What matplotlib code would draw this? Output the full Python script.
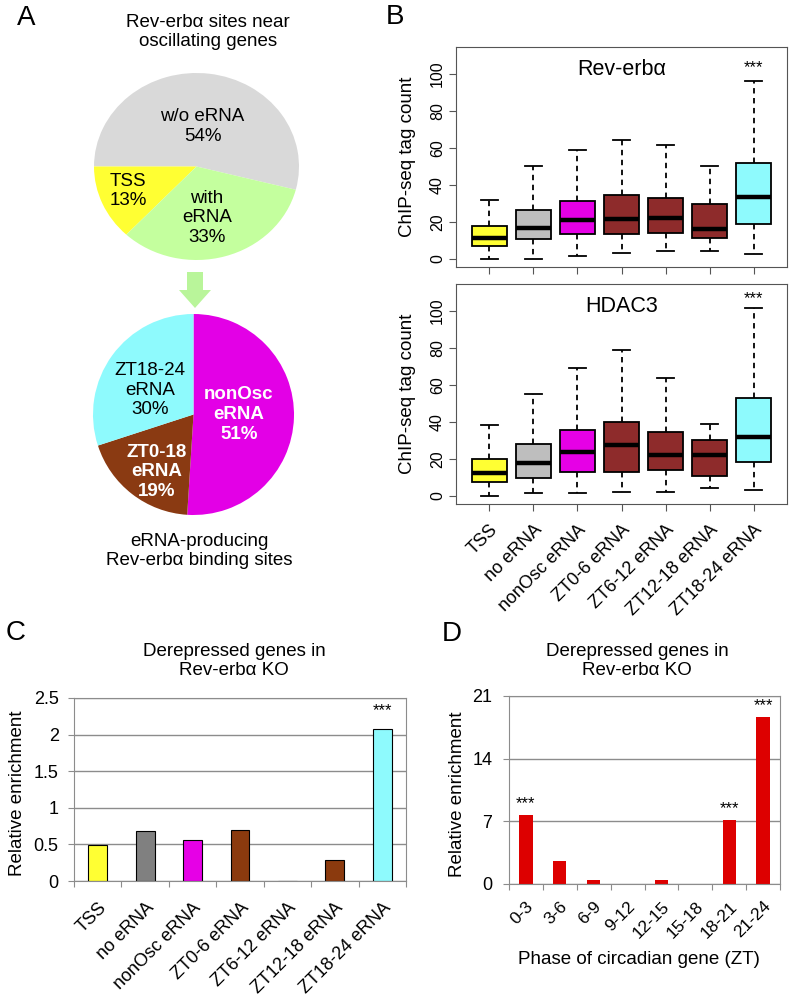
import numpy as np
import matplotlib
matplotlib.use('Agg')
import matplotlib.pyplot as plt
from matplotlib.patches import FancyArrow
from matplotlib.ticker import FormatStrFormatter

plt.rcParams['font.family'] = ['Liberation Sans', 'DejaVu Sans']

# Panel A: pie charts
pie1_labels = ['w/o eRNA', 'TSS', 'with\neRNA']
pie1_pct = [54, 13, 33]
pie1_colors = ['#D9D9D9', '#FFFF33', '#C4FF9E']

pie2_labels = ['nonOsc\neRNA', 'ZT0-18\neRNA', 'ZT18-24\neRNA']
pie2_pct = [51, 19, 30]
pie2_colors = ['#E300E6', '#8A3A12', '#8EFAFD']

# Panel B: ChIP-seq tag count box plots
box_cats = ['TSS', 'no eRNA', 'nonOsc eRNA', 'ZT0-6 eRNA', 'ZT6-12 eRNA',
            'ZT12-18 eRNA', 'ZT18-24 eRNA']
box_colors = ['#FFFF33', '#BEBEBE', '#E600E6', '#8E2B2B', '#8E2B2B', '#8E2B2B', '#8EFAFD']

rev_lo = [0, 0, 1.8, 3.1, 4.5, 4.5, 2.7]
rev_q1 = [7.0, 10.6, 13.5, 13.2, 14.1, 11.2, 18.6]
rev_med = [11.2, 16.8, 21.1, 21.4, 22.2, 15.9, 33.2]
rev_q3 = [17.5, 26.3, 31.4, 34.4, 33.0, 29.5, 51.7]
rev_hi = [32, 50, 58.6, 64.1, 61.6, 50, 95.9]

hdac_lo = [0, 1.3, 1.3, 2.3, 2.3, 4.5, 3.4]
hdac_q1 = [7.7, 9.9, 13.1, 13.1, 14.0, 10.8, 18.5]
hdac_med = [12.5, 17.6, 23.8, 27.2, 21.9, 21.9, 31.9]
hdac_q3 = [19.9, 28.1, 35.5, 40.0, 34.6, 30.3, 53.0]
hdac_hi = [38, 55, 68.8, 78.7, 63.8, 38.9, 101.3]

# Panel C: relative enrichment by eRNA class
enrich_vals = [0.49, 0.68, 0.565, 0.69, 0, 0.29, 2.07]
enrich_colors = ['#FFFF33', '#808080', '#E600E6', '#8B3A0E', '#8B3A0E', '#8B3A0E', '#8EFAFD']

# Panel D: relative enrichment by phase
phase_labels = ['0-3', '3-6', '6-9', '9-12', '12-15', '15-18', '18-21', '21-24']
phase_vals = [7.7, 2.6, 0.5, 0, 0.4, 0, 7.1, 18.6]
phase_stars = [0, 6, 7]

W, H = 794, 1002
fig = plt.figure(figsize=(W / 100, H / 100), dpi=100)


def px_axes(left, top, right, bottom):
    return fig.add_axes([left / W, 1 - bottom / H, (right - left) / W, (bottom - top) / H])


# ---- A: pies
ax = px_axes(94, 73, 299, 260)
ax.pie(pie1_pct, colors=pie1_colors, startangle=180 - 3.6 * pie1_pct[0],
       wedgeprops=dict(linewidth=0))
ax.set_aspect('auto')
ax.set_xlim(-1, 1)
ax.set_ylim(-1, 1)
for lab, p, (x, y) in zip(pie1_labels, pie1_pct, [(0.06, 0.43), (-0.67, -0.26), (0.10, -0.55)]):
    ax.text(x, y, f'{lab}\n{p}%', ha='center', va='center', fontsize=13.5)

ax = px_axes(93, 314, 294, 515)
ax.pie(pie2_pct, colors=pie2_colors, startangle=90, counterclock=False,
       wedgeprops=dict(linewidth=0))
ax.set_aspect('auto')
ax.set_xlim(-1, 1)
ax.set_ylim(-1, 1)
pie2_style = [('white', 'bold'), ('white', 'bold'), ('black', 'normal')]
for lab, p, (x, y), (c, wt) in zip(pie2_labels, pie2_pct,
                                    [(0.45, 0.0), (-0.37, -0.57), (-0.43, 0.24)], pie2_style):
    ax.text(x, y, f'{lab}\n{p}%', ha='center', va='center', fontsize=13.5,
            color=c, fontweight=wt)


# ---- B: box plots
def box_panel(ax, lo, q1, med, q3, hi, title, star_y, show_labels):
    stats = [dict(whislo=a, q1=b, med=c, q3=d, whishi=e, fliers=[])
             for a, b, c, d, e in zip(lo, q1, med, q3, hi)]
    pos = np.arange(1, len(stats) + 1)
    bp = ax.bxp(stats, positions=pos, widths=0.8, capwidths=0.4, patch_artist=True,
                showfliers=False,
                boxprops=dict(edgecolor='black', linewidth=1.3),
                whiskerprops=dict(color='black', linewidth=1.3, linestyle=(0, (3, 2.5))),
                capprops=dict(color='black', linewidth=1.3),
                medianprops=dict(color='black', linewidth=3.2, solid_capstyle='butt'))
    for patch, col in zip(bp['boxes'], box_colors):
        patch.set_facecolor(col)
    ax.set_xlim(0.24, 7.76)
    ax.set_ylim(-4.4, 114.4)
    ax.set_yticks([0, 20, 40, 60, 80, 100])
    ax.set_xticks(pos)
    ax.tick_params(length=5, color='#555555', labelsize=11.5)
    ax.tick_params(axis='y', labelrotation=90, pad=3)
    ax.tick_params(axis='x', pad=7.5)
    if show_labels:
        ax.set_xticklabels(box_cats, rotation=45, ha='right', rotation_mode='anchor',
                           fontsize=13)
    else:
        ax.set_xticklabels([])
    for s in ax.spines.values():
        s.set_color('#555555')
    for t in ax.get_yticklabels():
        t.set_va('center')
    ax.set_ylabel('ChIP-seq tag count', fontsize=13.5)
    ax.yaxis.set_label_coords(-0.12, 0.5)
    ax.text(4.0, 102, title, ha='center', va='center', fontsize=15.5)
    ax.text(pos[-1], star_y, '***', ha='center', va='center', fontsize=12)


ax = px_axes(456, 47, 787, 267)
box_panel(ax, rev_lo, rev_q1, rev_med, rev_q3, rev_hi, 'Rev-erbα', 103, False)
ax = px_axes(456, 284, 787, 504)
box_panel(ax, hdac_lo, hdac_q1, hdac_med, hdac_q3, hdac_hi, 'HDAC3', 106.5, True)


# ---- C and D: bar charts
def bar_frame(ax, n, ypad, xpad):
    ax.set_xlim(-0.5, n - 0.5)
    ax.set_xticks(np.arange(-0.5, n, 1))
    ax.set_xticklabels([])
    ax.tick_params(axis='x', which='major', length=4, color='#8c8c8c')
    ax.tick_params(axis='y', length=4, color='#8c8c8c', labelsize=13, pad=ypad)
    ax.tick_params(axis='x', which='minor', length=0, pad=xpad, labelsize=13)
    ax.grid(axis='y', color='#8c8c8c', linewidth=1)
    ax.set_axisbelow(True)
    for s in ax.spines.values():
        s.set_color('#8c8c8c')


ax = px_axes(74, 698, 406, 881)
xc = np.arange(len(box_cats))
ax.bar(xc, enrich_vals, width=0.4, color=enrich_colors, edgecolor='black', linewidth=0.8)
bar_frame(ax, len(box_cats), 7, 13)
ax.set_xticks(xc, minor=True)
ax.set_xticklabels(box_cats, minor=True, rotation=45, ha='right', rotation_mode='anchor')
ax.set_ylim(0, 2.5)
ax.set_yticks(np.arange(0, 2.51, 0.5))
ax.yaxis.set_major_formatter(FormatStrFormatter('%g'))
ax.set_ylabel('Relative enrichment', fontsize=13.5)
ax.yaxis.set_label_coords(-0.145, 0.48)
ax.text(xc[-1], enrich_vals[-1] + 0.26, '***', ha='center', va='center', fontsize=12)

ax = px_axes(509, 696, 780, 884)
xp = np.arange(len(phase_labels))
ax.bar(xp, phase_vals, width=0.39, color='#DD0000')
bar_frame(ax, len(phase_labels), 8, 10.5)
ax.set_xticks(xp, minor=True)
ax.set_xticklabels(phase_labels, minor=True, rotation=45, ha='right', rotation_mode='anchor',
                   fontsize=12.5)
ax.set_ylim(0, 21)
ax.set_yticks([0, 7, 14, 21])
ax.set_ylabel('Relative enrichment', fontsize=13.5)
ax.yaxis.set_label_coords(-0.16, 0.48)
ax.set_xlabel('Phase of circadian gene (ZT)', fontsize=13.5)
ax.xaxis.set_label_coords(0.48, -0.355)
for i in phase_stars:
    ax.text(xp[i], phase_vals[i] + 1.3, '***', ha='center', va='center', fontsize=12)

# ---- overlay: panel letters, titles, arrow
ov = fig.add_axes([0, 0, 1, 1])
ov.set_xlim(0, W)
ov.set_ylim(H, 0)
ov.axis('off')
for letter, x, y in [('A', 26, 18), ('B', 395, 17), ('C', 16, 633), ('D', 452, 634)]:
    ov.text(x, y, letter, fontsize=20, ha='center', va='center')
ov.text(208, 32, 'Rev-erbα sites near\noscillating genes', ha='center', va='center', fontsize=13.5)
ov.text(199, 551, 'eRNA-producing\nRev-erbα binding sites', ha='center', va='center', fontsize=13.5)
ov.text(234, 661, 'Derepressed genes in\nRev-erbα KO', ha='center', va='center', fontsize=13.5)
ov.text(637, 661, 'Derepressed genes in\nRev-erbα KO', ha='center', va='center', fontsize=13.5)
ov.add_patch(FancyArrow(195, 272, 0, 36, width=16, head_width=32, head_length=18,
                        length_includes_head=True, color='#B9F59A', linewidth=0))

fig.savefig('out.png', dpi=100)
